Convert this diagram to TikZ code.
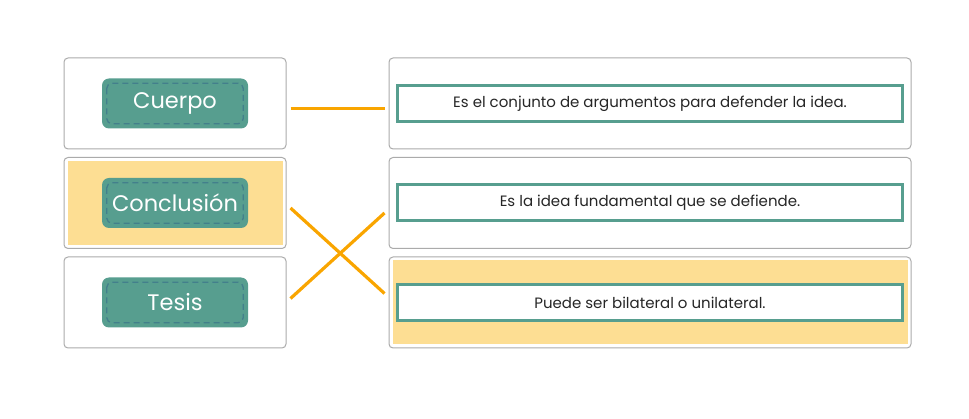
\documentclass[tikz,border=0pt]{standalone}
\usepackage{fontspec}
\setmainfont{Poppins}
\definecolor{tagteal}{HTML}{579E8F}
\definecolor{tagdash}{HTML}{437F8C}
\definecolor{linkorange}{HTML}{F9A500}
\definecolor{hlyellow}{HTML}{FDDE93}
\definecolor{cardgray}{HTML}{ABABAB}
\tikzset{
  card/.style={draw=cardgray, line width=1pt, fill=white, rounded corners=4pt, inner sep=0pt},
  leftcard/.style={card, minimum width=222pt, minimum height=91pt},
  rightcard/.style={card, minimum width=522pt, minimum height=91pt},
  tag/.style={fill=tagteal, rounded corners=7pt, minimum width=146pt, minimum height=50pt, inner sep=0pt, text=white, font=\fontsize{22.5}{26}\selectfont},
  tagline/.style={draw=tagdash, dash pattern=on 6pt off 4pt, line width=1.3pt, rounded corners=5pt},
  answer/.style={draw=tagteal, line width=3pt, fill=white, minimum width=505pt, minimum height=36pt, inner sep=0pt, text=black!85, font=\fontsize{15}{18}\selectfont},
  link/.style={draw=linkorange, line width=3.2pt},
}
\begin{document}
\begin{tikzpicture}[x=1pt, y=-1pt]
\useasboundingbox (0,0) rectangle (969,419);
	% left column
	\node[leftcard] (lc1) at (175,103.5) {};
	\node[leftcard] (lc2) at (175,203) {};
	\node[leftcard] (lc3) at (175,302.5) {};
\fill[hlyellow] ([shift={(4pt,-4pt)}]lc2.north west) rectangle ([shift={(-4pt,4pt)}]lc2.south east);

	\node[tag] (cuerpo) at (lc1.center) {Cuerpo};
	\node[tag] (conclusion) at (lc2.center) {Conclusión};
	\node[tag] (tesis) at (lc3.center) {Tesis};
\draw[tagline] ([shift={(5pt,-5pt)}]cuerpo.north west) rectangle ([shift={(-5pt,5pt)}]cuerpo.south east);
\draw[tagline] ([shift={(5pt,-5pt)}]conclusion.north west) rectangle ([shift={(-5pt,5pt)}]conclusion.south east);
\draw[tagline] ([shift={(5pt,-5pt)}]tesis.north west) rectangle ([shift={(-5pt,5pt)}]tesis.south east);

	% right column
	\node[rightcard] (rc1) at (650,103.5) {};
	\node[rightcard] (rc2) at (650,203) {};
	\node[rightcard] (rc3) at (650,302.5) {};
\fill[hlyellow] ([shift={(4pt,-4pt)}]rc3.north west) rectangle ([shift={(-4pt,4pt)}]rc3.south east);

	\node[answer] (argumentos) at (rc1.center) {Es el conjunto de argumentos para defender la idea.};
	\node[answer] (idea) at (rc2.center) {Es la idea fundamental que se defiende.};
	\node[answer] (bilateral) at (rc3.center) {Puede ser bilateral o unilateral.};

	% links
\draw[link] ([shift={(4pt,-5pt)}]lc1.east) -- ([shift={(-4pt,-5pt)}]rc1.west);
\draw[link] ([shift={(4pt,-5pt)}]lc2.east) -- ([shift={(-4pt,9pt)}]rc3.west);
\draw[link] ([shift={(4pt,4pt)}]lc3.east) -- ([shift={(-4pt,-10pt)}]rc2.west);
	\end{tikzpicture}
\end{document}
